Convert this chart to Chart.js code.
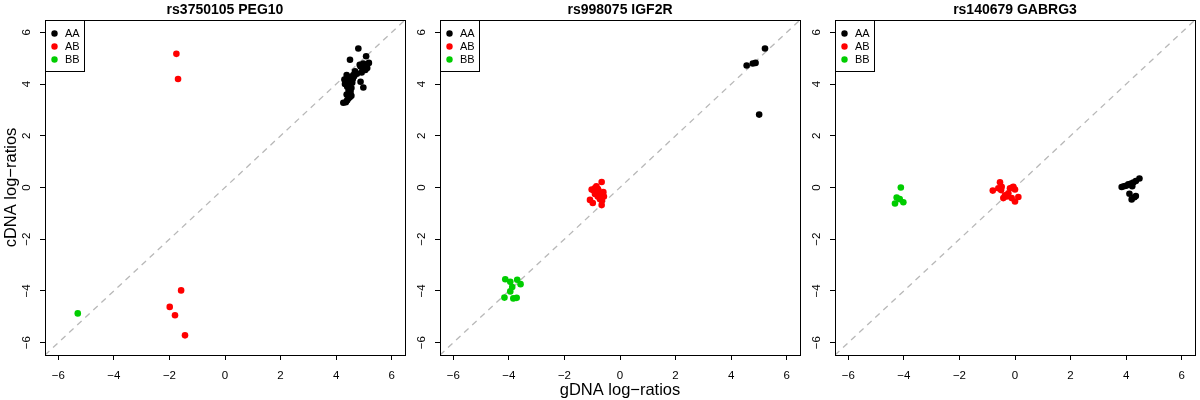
<!DOCTYPE html>
<html>
<head>
<meta charset="utf-8">
<script src="https://cdn.jsdelivr.net/npm/chart.js@4/dist/chart.umd.min.js"></script>
<style>
  html, body { margin:0; padding:0; background:#fff; width:1200px; height:400px; overflow:hidden; }
  .panel { position:absolute; top:0; width:410px; height:400px; }
</style>
</head>
<body>
<div class="panel" style="left:0"><canvas id="p1" width="410" height="400"></canvas></div>
<div class="panel" style="left:395px"><canvas id="p2" width="410" height="400"></canvas></div>
<div class="panel" style="left:790px"><canvas id="p3" width="410" height="400"></canvas></div>
<script>
const FONT = '"Liberation Sans", Arial, Helvetica, sans-serif';

// shared bits
const groups = ['AA', 'AB', 'BB'];
const groupColors = ['#000000', '#FF0000', '#00CD00'];
const axisLim = [-6.48, 6.48];
const tickVals = [-6, -4, -2, 0, 2, 4, 6];
const titles = ['rs3750105 PEG10', 'rs998075 IGF2R', 'rs140679 GABRG3'];
const xTitle = 'gDNA log\u2212ratios';
const yTitle = 'cDNA log\u2212ratios';

// panel 1: rs3750105 PEG10  [gDNA, cDNA]
const peg10AA = [[4.80,5.38],[5.08,5.08],[4.50,4.94],[5.18,4.82],[5.10,4.70],[5.00,4.72],[4.95,4.60],[4.88,4.68],
  [5.05,4.55],[4.92,4.45],[5.12,4.62],[4.98,4.80],[4.88,4.09],[4.98,3.87],[4.70,4.45],[4.62,4.35],[4.55,4.28],
  [4.45,4.20],[4.38,4.35],[4.35,4.10],[4.42,4.05],[4.50,4.15],[4.58,4.05],[4.65,4.30],[4.48,3.95],[4.55,3.85],
  [4.45,3.75],[4.52,3.70],[4.40,3.90],[4.60,4.20],[4.68,4.50],[4.75,4.40],[4.32,4.00],[4.38,3.60],[4.45,3.45],
  [4.50,3.50],[4.40,3.38],[4.26,3.28],[4.35,3.30],[4.55,3.55],[4.30,4.18],[4.85,4.75]];
const peg10AB = [[-1.75,5.17],[-1.69,4.20],[-1.58,-3.98],[-1.99,-4.62],[-1.80,-4.94],[-1.44,-5.72]];
const peg10BB = [[-5.30,-4.87]];

// panel 2: rs998075 IGF2R
const igf2rAA = [[5.22,5.38],[4.88,4.82],[4.78,4.80],[4.56,4.72],[5.01,2.82]];
const igf2rAB = [[-0.66,0.21],[-1.08,-0.48],[-0.98,-0.60],[-0.66,-0.68],[-1.02,-0.08],[-0.90,-0.02],[-0.85,-0.15],
  [-0.80,-0.05],[-0.75,-0.20],[-0.70,-0.30],[-0.62,-0.25],[-0.58,-0.35],[-0.80,-0.35],[-0.90,-0.25],[-0.72,-0.45],
  [-0.65,-0.50],[-0.85,0.05],[-0.95,-0.12],[-0.78,-0.10],[-0.60,-0.18]];
const igf2rBB = [[-4.13,-3.55],[-3.70,-3.57],[-3.58,-3.74],[-3.95,-3.65],[-3.88,-3.85],[-3.95,-4.02],
  [-4.16,-4.26],[-3.84,-4.29],[-3.72,-4.27]];

// panel 3: rs140679 GABRG3
const gabrg3AA = [[3.84,0.02],[3.92,0.05],[4.00,0.07],[4.08,0.12],[4.18,0.15],[4.26,0.19],[4.35,0.25],[4.48,0.35],
  [4.12,-0.24],[4.20,-0.46],[4.30,-0.38],[4.35,-0.33],[4.22,0.05]];
const gabrg3AB = [[-0.80,-0.12],[-0.54,0.20],[-0.48,0.03],[-0.60,-0.03],[-0.42,-0.41],[-0.36,-0.30],[-0.18,-0.03],
  [-0.06,0.03],[0.00,-0.08],[-0.24,-0.22],[-0.12,-0.41],[0.00,-0.54],[0.12,-0.37],[-0.30,-0.35],[-0.10,0.00],[-0.50,-0.10]];
const gabrg3BB = [[-4.11,0.00],[-4.26,-0.39],[-4.15,-0.45],[-4.02,-0.57],[-4.32,-0.62]];

const fmtTick = v => String(v).replace('-', '\u2212');
const toXY = arr => arr.map(p => ({ x: p[0], y: p[1] }));

// R-style box round the plot + legend in the top-left corner
const rFrame = {
  id: 'rFrame',
  afterDatasetsDraw(chart) {
    const { ctx, chartArea: a } = chart;
    const L = Math.round(a.left) + 0.5, T = Math.round(a.top) + 0.5;
    ctx.save();
    ctx.strokeStyle = '#000'; ctx.lineWidth = 1;
    ctx.strokeRect(L, T, Math.round(a.right - a.left), Math.round(a.bottom - a.top));
    ctx.fillStyle = '#fff';
    ctx.fillRect(L, T, 39, 51);
    ctx.strokeRect(L, T, 39, 51);
    ctx.font = `11px ${FONT}`; ctx.textBaseline = 'middle'; ctx.textAlign = 'left';
    groups.forEach((g, i) => {
      const cy = T + 13 + i * 13;
      ctx.fillStyle = groupColors[i];
      ctx.beginPath(); ctx.arc(L + 9, cy, 3.2, 0, Math.PI * 2); ctx.fill();
      ctx.fillStyle = '#000';
      ctx.fillText(g, L + 19.5, cy + 0.5);
    });
    ctx.restore();
  }
};

function axisOpts(isY, showTitle) {
  return {
    type: 'linear', min: axisLim[0], max: axisLim[1],
    position: isY ? 'left' : 'bottom',
    afterBuildTicks: s => { s.ticks = tickVals.map(v => ({ value: v })); },
    afterFit: s => { if (isY) s.width = 45; else s.height = 45; },
    grid: { drawOnChartArea: false, drawTicks: true, tickLength: 5, color: '#000', lineWidth: 1 },
    border: { display: true, color: '#000', width: 1 },
    ticks: isY
      ? { font: { size: 11.5 }, color: '#000', padding: 7, minRotation: 90, maxRotation: 90, crossAlign: 'center', callback: fmtTick }
      : { font: { size: 11.5 }, color: '#000', padding: 9, maxRotation: 0, callback: fmtTick },
    title: {
      display: showTitle, text: isY ? yTitle : xTitle, color: '#000',
      font: { size: 16.5 }, padding: isY ? { top: 2, bottom: 0 } : { top: 0, bottom: 0 }
    }
  };
}

function makePanel(id, idx, aa, ab, bb) {
  const sets = [aa, ab, bb];
  new Chart(document.getElementById(id), {
    type: 'scatter',
    data: {
      datasets: [
        ...sets.map((d, i) => ({
          label: groups[i], data: toXY(d), order: 1,
          pointRadius: 3.3, pointBorderWidth: 0, pointBackgroundColor: groupColors[i], backgroundColor: groupColors[i]
        })),
        { type: 'line', label: 'y = x', data: axisLim.map(v => ({ x: v, y: v })), order: 10,
          borderColor: '#B8B8B8', borderWidth: 1.3, borderDash: [6, 5], pointRadius: 0, fill: false }
      ]
    },
    options: {
      responsive: false, animation: false, events: [],
      layout: { padding: { left: 0, right: 5, top: 0, bottom: 0 } },
      plugins: {
        legend: { display: false }, tooltip: { enabled: false },
        title: { display: true, text: titles[idx], fullSize: false, color: '#000',
          font: { size: 14, weight: 'bold' }, padding: { top: 2, bottom: 1.2 } }
      },
      scales: { x: axisOpts(false, idx === 1), y: axisOpts(true, idx === 0) }
    },
    plugins: [rFrame]
  });
}

Chart.defaults.font.family = FONT;
makePanel('p1', 0, peg10AA, peg10AB, peg10BB);
makePanel('p2', 1, igf2rAA, igf2rAB, igf2rBB);
makePanel('p3', 2, gabrg3AA, gabrg3AB, gabrg3BB);
</script>
</body>
</html>
